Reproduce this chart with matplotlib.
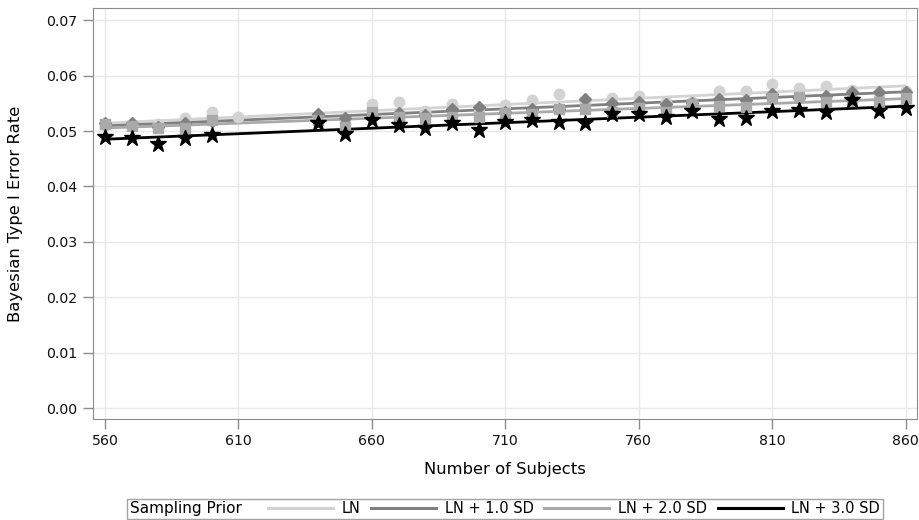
import numpy as np
import matplotlib
matplotlib.use('Agg')
import matplotlib.pyplot as plt
from matplotlib.lines import Line2D
from matplotlib.offsetbox import HPacker

# Number of subjects (LN has one extra run at 610)
x_ln = [560, 570, 580, 590, 600, 610, 640, 650, 660, 670, 680, 690, 700, 710,
        720, 730, 740, 750, 760, 770, 780, 790, 800, 810, 820, 830, 840, 850, 860]
x_sd = [560, 570, 580, 590, 600, 640, 650, 660, 670, 680, 690, 700, 710,
        720, 730, 740, 750, 760, 770, 780, 790, 800, 810, 820, 830, 840, 850, 860]

ln = [0.0510, 0.0510, 0.0512, 0.0524, 0.0534, 0.0525, 0.0525, 0.0520, 0.0549,
      0.0552, 0.0537, 0.0548, 0.0535, 0.0547, 0.0556, 0.0567, 0.0550, 0.0559,
      0.0563, 0.0552, 0.0552, 0.0572, 0.0572, 0.0584, 0.0577, 0.0582, 0.0574,
      0.0565, 0.0572]
ln_1sd = [0.0515, 0.0515, 0.0507, 0.0514, 0.0518, 0.0530, 0.0523, 0.0525,
          0.0533, 0.0528, 0.0539, 0.0544, 0.0535, 0.0539, 0.0540, 0.0558,
          0.0551, 0.0552, 0.0548, 0.0550, 0.0557, 0.0556, 0.0566, 0.0560,
          0.0563, 0.0570, 0.0570, 0.0570]
ln_2sd = [0.0513, 0.0509, 0.0505, 0.0505, 0.0520, 0.0520, 0.0508, 0.0535,
          0.0525, 0.0523, 0.0526, 0.0525, 0.0533, 0.0530, 0.0539, 0.0539,
          0.0535, 0.0541, 0.0535, 0.0548, 0.0545, 0.0544, 0.0559, 0.0562,
          0.0552, 0.0555, 0.0552, 0.0559]
ln_3sd = [0.0489, 0.0487, 0.0477, 0.0487, 0.0492, 0.0515, 0.0495, 0.0519,
          0.0511, 0.0505, 0.0515, 0.0502, 0.0517, 0.0520, 0.0517, 0.0514,
          0.0531, 0.0530, 0.0526, 0.0536, 0.0522, 0.0524, 0.0537, 0.0538,
          0.0535, 0.0556, 0.0536, 0.0541]

labels = ['LN', 'LN + 1.0 SD', 'LN + 2.0 SD', 'LN + 3.0 SD']
x_ticks = [560, 610, 660, 710, 760, 810, 860]
y_ticks = [0.00, 0.01, 0.02, 0.03, 0.04, 0.05, 0.06, 0.07]

series = [
    (x_ln, ln, '#d3d3d3', 'o', 7.5),
    (x_sd, ln_1sd, '#808080', 'D', 6.5),
    (x_sd, ln_2sd, '#a9a9a9', 's', 6.5),
    (x_sd, ln_3sd, '#000000', '*', 12),
]

plt.rcParams['font.family'] = ['DejaVu Sans']
fig = plt.figure(figsize=(9.2, 5.2), dpi=100)
ax = fig.add_axes([0.101, 0.194, 0.8957, 0.7906])

handles = []
for xs, ys, cor, marc, tam in series:
    xs = np.array(xs)
    ys = np.array(ys)
    # regression line through the simulated rates
    b, a = np.polyfit(xs, ys, 1)
    xx = np.array([xs.min(), xs.max()])
    ax.plot(xx, a + b * xx, color=cor, lw=2, zorder=2, solid_capstyle='butt')
    ax.plot(xs, ys, ls='none', marker=marc, ms=tam, mfc=cor, mec=cor,
            zorder=3)
    handles.append(Line2D([], [], color=cor, lw=2.2))

ax.set_xlim(555.5, 864.2)
ax.set_ylim(-0.002, 0.0722)
ax.set_xticks(x_ticks)
ax.set_yticks(y_ticks)
ax.set_yticklabels([f'{v:.2f}' for v in y_ticks])
ax.grid(True, color='#e8e8e8', lw=1)
ax.set_axisbelow(True)
for s in ax.spines.values():
    s.set_color('#8c8c8c')
ax.tick_params(direction='out', length=7, width=1, color='#8c8c8c',
               labelsize=10.2, labelcolor='#111111', pad=4)

ax.set_xlabel('Number of Subjects', fontsize=11.8, labelpad=10)
ax.set_ylabel('Bayesian Type I Error Rate', fontsize=11.8, labelpad=17)

leg = fig.legend(handles, labels, title='Sampling Prior', ncol=4,
                 loc='center', bbox_to_anchor=(0.549, 0.0215),
                 fontsize=10.5, title_fontsize=11, frameon=True,
                 fancybox=False, edgecolor='#8c8c8c', handlelength=4.45,
                 handletextpad=0.6, columnspacing=0.72, borderpad=0.1,
                 borderaxespad=0)
leg.get_frame().set_linewidth(1)
# put the title on the same row as the entries
box = HPacker(children=[leg._legend_title_box, leg._legend_handle_box],
              pad=2, sep=19, align='center')
box.set_figure(fig)
box.set_offset(leg._findoffset)
leg._legend_box = box

fig.savefig('out.png', dpi=100)
